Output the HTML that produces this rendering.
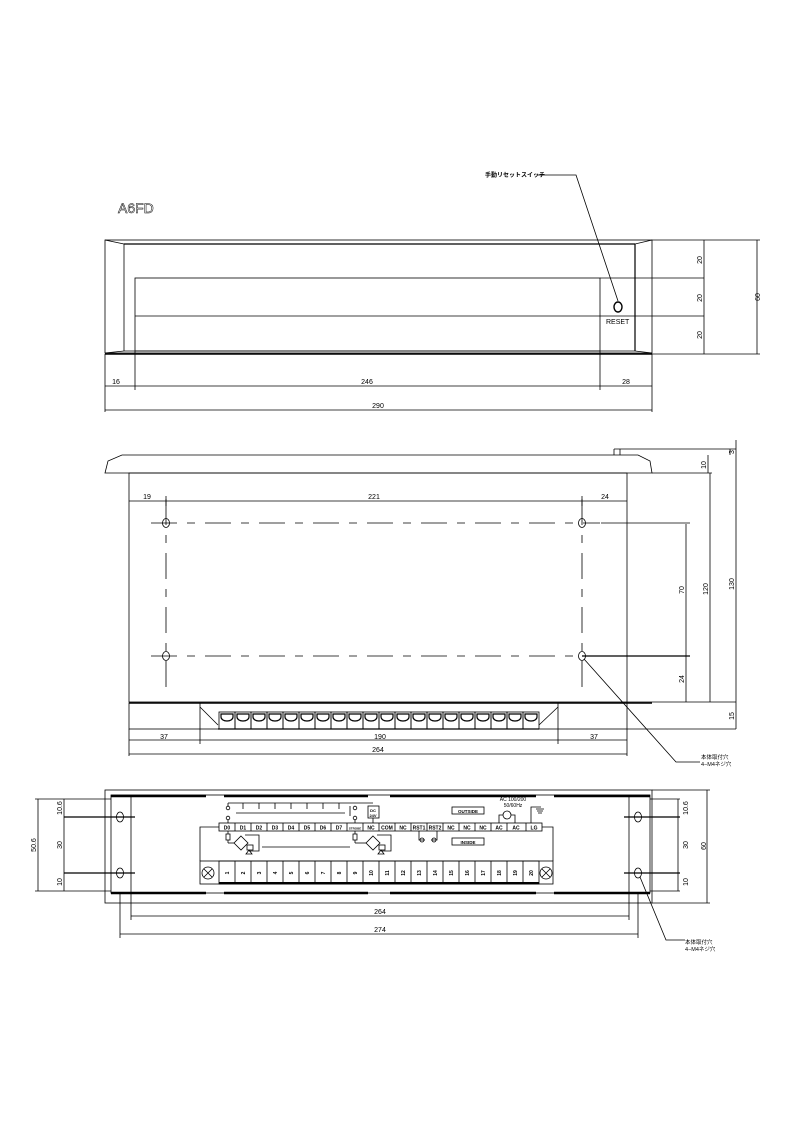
<!DOCTYPE html>
<html><head><meta charset="utf-8"><style>
html,body{margin:0;padding:0;background:#fff}
svg{display:block}
text{font-family:"Liberation Sans","Noto Sans CJK JP",sans-serif;fill:#000}
</style></head><body>
<svg width="794" height="1123" viewBox="0 0 794 1123" xmlns="http://www.w3.org/2000/svg">
<g fill="none" stroke="#000" stroke-width="0.8">
<!-- ===== TOP VIEW ===== -->
<rect x="105" y="240" width="547" height="113"/>
<line x1="105" y1="354" x2="652" y2="354" stroke-width="1.4"/>
<line x1="124" y1="244" x2="635" y2="244" stroke-width="1.2"/>
<line x1="124" y1="351" x2="635" y2="351"/>
<line x1="124" y1="244" x2="124" y2="351"/>
<line x1="635" y1="244" x2="635" y2="351" stroke-width="1.2"/>
<line x1="105" y1="240" x2="124" y2="244"/><line x1="652" y1="240" x2="635" y2="244"/>
<line x1="105" y1="353" x2="124" y2="351"/><line x1="652" y1="353" x2="635" y2="351"/>
<rect x="135" y="278" width="465" height="73"/>
<line x1="135" y1="316" x2="704" y2="316"/>
<line x1="600" y1="278" x2="704" y2="278"/>
<line x1="652" y1="240" x2="760" y2="240"/>
<line x1="652" y1="354" x2="760" y2="354"/>
<line x1="704" y1="240" x2="704" y2="354"/>
<line x1="757" y1="240" x2="757" y2="354"/>
<ellipse cx="618" cy="307" rx="4" ry="5" stroke-width="1.4"/>
<polyline points="618,301 576,175 537,175"/>
<line x1="105" y1="354" x2="105" y2="412"/>
<line x1="135" y1="351" x2="135" y2="390"/>
<line x1="600" y1="351" x2="600" y2="390"/>
<line x1="652" y1="354" x2="652" y2="412"/>
<line x1="105" y1="386" x2="652" y2="386"/>
<line x1="105" y1="410" x2="652" y2="410"/>
<!-- ===== MIDDLE VIEW ===== -->
<polygon points="105,473 108,461 122,455 638,455 650,461 652,473"/>
<rect x="129" y="473" width="498" height="229"/>
<line x1="129" y1="703" x2="652" y2="703" stroke-width="1.4"/>
<rect x="129" y="703" width="498" height="26"/>
<line x1="614" y1="449" x2="736" y2="449"/><line x1="614" y1="449" x2="614" y2="455"/>
<line x1="620" y1="449" x2="620" y2="455"/>
<line x1="652" y1="473" x2="712" y2="473"/>
<line x1="627" y1="729" x2="736" y2="729"/>
<line x1="627" y1="702" x2="736" y2="702"/>
<line x1="710" y1="473" x2="710" y2="702"/>
<line x1="708" y1="455" x2="708" y2="473"/>
<line x1="736" y1="440" x2="736" y2="729"/>
<line x1="730" y1="449" x2="730" y2="455"/>
<line x1="686" y1="524" x2="686" y2="702"/>
<line x1="582" y1="656" x2="690" y2="656" stroke-width="1.3"/>
<line x1="601" y1="523" x2="690" y2="523"/>
<g stroke-dasharray="26,10,8,10">
<line x1="151" y1="523" x2="600" y2="523"/>
<line x1="151" y1="656" x2="600" y2="656"/>
<line x1="166" y1="499" x2="166" y2="690"/>
<line x1="582" y1="499" x2="582" y2="690"/>
</g>
<ellipse cx="166" cy="523" rx="3.5" ry="4.5"/><ellipse cx="582" cy="523" rx="3.5" ry="4.5"/>
<ellipse cx="166" cy="656" rx="3.5" ry="4.5"/><ellipse cx="582" cy="656" rx="3.5" ry="4.5"/>
<line x1="129" y1="501" x2="627" y2="501"/>
<line x1="166" y1="496" x2="166" y2="506"/><line x1="582" y1="496" x2="582" y2="506"/>
<!-- connector -->
<line x1="200" y1="703" x2="200" y2="744"/><line x1="558" y1="703" x2="558" y2="744"/>
<line x1="200" y1="707" x2="218" y2="725"/><line x1="558" y1="707" x2="539" y2="725"/>
<line x1="218" y1="729" x2="539" y2="729" stroke-width="1.3"/>
<line x1="129" y1="729" x2="129" y2="756"/><line x1="627" y1="729" x2="627" y2="756"/>
<line x1="129" y1="740" x2="627" y2="740"/>
<line x1="129" y1="754" x2="627" y2="754"/>
<polyline points="584,659 676,762 700,762"/>
</g>
<!-- terminals middle view -->
<g fill="none" stroke="#000" stroke-width="0.8">
<rect x="219" y="712" width="16" height="17"/><rect x="235" y="712" width="16" height="17"/><rect x="251" y="712" width="16" height="17"/><rect x="267" y="712" width="16" height="17"/><rect x="283" y="712" width="16" height="17"/><rect x="299" y="712" width="16" height="17"/><rect x="315" y="712" width="16" height="17"/><rect x="331" y="712" width="16" height="17"/><rect x="347" y="712" width="16" height="17"/><rect x="363" y="712" width="16" height="17"/><rect x="379" y="712" width="16" height="17"/><rect x="395" y="712" width="16" height="17"/><rect x="411" y="712" width="16" height="17"/><rect x="427" y="712" width="16" height="17"/><rect x="443" y="712" width="16" height="17"/><rect x="459" y="712" width="16" height="17"/><rect x="475" y="712" width="16" height="17"/><rect x="491" y="712" width="16" height="17"/><rect x="507" y="712" width="16" height="17"/><rect x="523" y="712" width="16" height="17"/>
</g>
<g fill="none" stroke="#000" stroke-width="1.2">
<path d="M221,714 h12 v3 a6,4 0 0 1 -12,0 z M237,714 h12 v3 a6,4 0 0 1 -12,0 z M253,714 h12 v3 a6,4 0 0 1 -12,0 z M269,714 h12 v3 a6,4 0 0 1 -12,0 z M285,714 h12 v3 a6,4 0 0 1 -12,0 z M301,714 h12 v3 a6,4 0 0 1 -12,0 z M317,714 h12 v3 a6,4 0 0 1 -12,0 z M333,714 h12 v3 a6,4 0 0 1 -12,0 z M349,714 h12 v3 a6,4 0 0 1 -12,0 z M365,714 h12 v3 a6,4 0 0 1 -12,0 z M381,714 h12 v3 a6,4 0 0 1 -12,0 z M397,714 h12 v3 a6,4 0 0 1 -12,0 z M413,714 h12 v3 a6,4 0 0 1 -12,0 z M429,714 h12 v3 a6,4 0 0 1 -12,0 z M445,714 h12 v3 a6,4 0 0 1 -12,0 z M461,714 h12 v3 a6,4 0 0 1 -12,0 z M477,714 h12 v3 a6,4 0 0 1 -12,0 z M493,714 h12 v3 a6,4 0 0 1 -12,0 z M509,714 h12 v3 a6,4 0 0 1 -12,0 z M525,714 h12 v3 a6,4 0 0 1 -12,0 z"/>
</g>
<!-- ===== BOTTOM VIEW ===== -->
<g fill="none" stroke="#000" stroke-width="0.8">
<rect x="105" y="790" width="547" height="113"/>
<rect x="111" y="795" width="539" height="98"/>
<g stroke-width="2.4">
<line x1="111" y1="796" x2="206" y2="796"/><line x1="224" y1="796" x2="368" y2="796"/><line x1="390" y1="796" x2="536" y2="796"/><line x1="554" y1="796" x2="650" y2="796"/>
<line x1="111" y1="893" x2="206" y2="893"/><line x1="224" y1="893" x2="368" y2="893"/><line x1="390" y1="893" x2="536" y2="893"/><line x1="554" y1="893" x2="650" y2="893"/>
</g>
<line x1="131" y1="795" x2="131" y2="893"/><line x1="629" y1="795" x2="629" y2="893"/>
<ellipse cx="120" cy="817" rx="3.5" ry="5"/><ellipse cx="120" cy="873" rx="3.5" ry="5"/>
<ellipse cx="638" cy="817" rx="3.5" ry="5"/><ellipse cx="638" cy="873" rx="3.5" ry="5"/>
<line x1="64" y1="817" x2="135" y2="817" stroke-width="1.3"/><line x1="64" y1="873" x2="135" y2="873" stroke-width="1.3"/>
<line x1="624" y1="817" x2="680" y2="817" stroke-width="1.3"/><line x1="624" y1="873" x2="680" y2="873" stroke-width="1.3"/>
<line x1="35" y1="799" x2="111" y2="799"/><line x1="35" y1="891" x2="111" y2="891"/>
<line x1="38" y1="799" x2="38" y2="891"/><line x1="64" y1="799" x2="64" y2="891"/>
<line x1="650" y1="799" x2="680" y2="799"/><line x1="650" y1="891" x2="680" y2="891"/>
<line x1="678" y1="799" x2="678" y2="891"/>
<line x1="652" y1="790" x2="710" y2="790"/><line x1="652" y1="903" x2="710" y2="903"/>
<line x1="707" y1="790" x2="707" y2="903"/>
<line x1="131" y1="893" x2="131" y2="920"/><line x1="629" y1="893" x2="629" y2="920"/>
<line x1="120" y1="893" x2="120" y2="938"/><line x1="638" y1="893" x2="638" y2="938"/>
<line x1="131" y1="916" x2="629" y2="916"/>
<line x1="120" y1="934" x2="638" y2="934"/>
<polyline points="640,877 666,940 685,940"/>
<!-- terminal block -->
<rect x="200" y="861" width="353" height="23"/>
<rect x="219" y="861" width="320" height="23"/>
<line x1="219" y1="883" x2="539" y2="883" stroke-width="2"/>
<circle cx="208" cy="873" r="6"/><circle cx="546" cy="873" r="6"/>
<path d="M204,869 l8,8 M212,869 l-8,8 M542,869 l8,8 M550,869 l-8,8"/>
<path d="M235,861v23M251,861v23M267,861v23M283,861v23M299,861v23M315,861v23M331,861v23M347,861v23M363,861v23M379,861v23M395,861v23M411,861v23M427,861v23M443,861v23M459,861v23M475,861v23M491,861v23M507,861v23M523,861v23"/>
<!-- label row -->
<rect x="219" y="823" width="323" height="8"/>
<path d="M235,823v8M251,823v8M267,823v8M283,823v8M299,823v8M315,823v8M331,823v8M347,823v8M363,823v8M379,823v8M395,823v8M411,823v8M427,823v8M443,823v8M459,823v8M475,823v8M491,823v8M507,823v8M526,823v8"/>
<polyline points="200,861 200,827 219,827"/>
<polyline points="553,861 553,827 542,827"/>
<!-- switches -->
<line x1="228" y1="803" x2="355" y2="803"/>
<circle cx="228" cy="808" r="1.8"/><circle cx="228" cy="818" r="1.8"/>
<circle cx="355" cy="808" r="1.8"/><circle cx="355" cy="818" r="1.8"/>
<line x1="228" y1="803" x2="228" y2="806"/><line x1="228" y1="820" x2="228" y2="823"/>
<line x1="355" y1="820" x2="355" y2="823"/><line x1="350" y1="806" x2="350" y2="816"/>
<path d="M243,803v6M259,803v6M275,803v6M291,803v6M307,803v6M323,803v6M339,803v6"/>
<line x1="236" y1="813" x2="345" y2="813"/>
<line x1="355" y1="803" x2="373" y2="803"/>
<rect x="368" y="806" width="11" height="12"/>
<line x1="373" y1="818" x2="373" y2="823"/>
<!-- opto circuits -->
<rect x="226" y="834" width="4" height="6"/><line x1="228" y1="831" x2="228" y2="834"/><line x1="228" y1="840" x2="228" y2="843"/><line x1="228" y1="843" x2="234" y2="843"/>
<path d="M241,836 l7,7 l-7,7 l-7,-7 z"/><path d="M245,835 h14 v16 h-10"/>
<rect x="247" y="845" width="6" height="5"/><path d="M249,850 l3,4 h-6 z"/>
<line x1="262" y1="847" x2="350" y2="847"/>
<rect x="353" y="834" width="4" height="6"/><line x1="355" y1="831" x2="355" y2="834"/><line x1="355" y1="840" x2="355" y2="843"/><line x1="355" y1="843" x2="366" y2="843"/>
<path d="M373,836 l7,7 l-7,7 l-7,-7 z"/><path d="M377,835 h14 v16 h-10"/>
<rect x="379" y="845" width="6" height="5"/><path d="M381,850 l3,4 h-6 z"/>
<path d="M419,831 v9 h6 M437,831 v9 h-6"/><circle cx="422" cy="840" r="2"/><circle cx="434" cy="840" r="2"/>
<rect x="452" y="807" width="32" height="7"/><rect x="452" y="838" width="32" height="7"/>
<circle cx="507" cy="815" r="4"/><path d="M499,823 v-8 h4 M515,823 v-8 h-4"/>
<path d="M531,823 v-16 h10 M536,809 h8 M537,811 h6 M538,813 h4"/>
</g>
<!-- ===== TEXT ===== -->
<g font-size="7">
<text x="118" y="213" font-size="14" fill="none" stroke="#000" stroke-width="0.5" style="fill:none">A6FD</text>
<text x="485" y="177" font-size="6" font-weight="bold">手動リセットスイッチ</text>
<text x="606" y="324" font-size="7">RESET</text>
<text x="116" y="384" text-anchor="middle">16</text>
<text x="367" y="384" text-anchor="middle">246</text>
<text x="626" y="384" text-anchor="middle">28</text>
<text x="378" y="408" text-anchor="middle">290</text>
<text transform="translate(702,260) rotate(-90)" text-anchor="middle">20</text>
<text transform="translate(702,298) rotate(-90)" text-anchor="middle">20</text>
<text transform="translate(702,335) rotate(-90)" text-anchor="middle">20</text>
<text transform="translate(760,297) rotate(-90)" text-anchor="middle">60</text>
<text x="147" y="499" text-anchor="middle">19</text>
<text x="374" y="499" text-anchor="middle">221</text>
<text x="605" y="499" text-anchor="middle">24</text>
<text transform="translate(734,452) rotate(-90)" text-anchor="middle">3</text>
<text transform="translate(706,465) rotate(-90)" text-anchor="middle">10</text>
<text transform="translate(684,590) rotate(-90)" text-anchor="middle">70</text>
<text transform="translate(684,679) rotate(-90)" text-anchor="middle">24</text>
<text transform="translate(708,589) rotate(-90)" text-anchor="middle">120</text>
<text transform="translate(734,584) rotate(-90)" text-anchor="middle">130</text>
<text transform="translate(734,716) rotate(-90)" text-anchor="middle">15</text>
<text x="164" y="739" text-anchor="middle">37</text>
<text x="380" y="739" text-anchor="middle">190</text>
<text x="594" y="739" text-anchor="middle">37</text>
<text x="378" y="752" text-anchor="middle">264</text>
<text x="701" y="759" font-size="5.5">本体取付穴</text>
<text x="701" y="766" font-size="5.5">4−M4ネジ穴</text>
<text transform="translate(62,808) rotate(-90)" text-anchor="middle">10.6</text>
<text transform="translate(62,845) rotate(-90)" text-anchor="middle">30</text>
<text transform="translate(62,882) rotate(-90)" text-anchor="middle">10</text>
<text transform="translate(36,845) rotate(-90)" text-anchor="middle">50.6</text>
<text transform="translate(688,808) rotate(-90)" text-anchor="middle">10.6</text>
<text transform="translate(688,845) rotate(-90)" text-anchor="middle">30</text>
<text transform="translate(688,882) rotate(-90)" text-anchor="middle">10</text>
<text transform="translate(706,846) rotate(-90)" text-anchor="middle">60</text>
<text x="380" y="914" text-anchor="middle">264</text>
<text x="380" y="932" text-anchor="middle">274</text>
<text x="685" y="944" font-size="5.5">本体取付穴</text>
<text x="685" y="951" font-size="5.5">4−M4ネジ穴</text>
</g>
<g font-size="5" text-anchor="middle" font-weight="bold">
<text x="227" y="829.5">D0</text><text x="243" y="829.5">D1</text><text x="259" y="829.5">D2</text><text x="275" y="829.5">D3</text><text x="291" y="829.5">D4</text><text x="307" y="829.5">D5</text><text x="323" y="829.5">D6</text><text x="339" y="829.5">D7</text><text x="355" y="829.5" font-size="3">STROBE</text><text x="371" y="829.5">NC</text><text x="387" y="829.5">COM</text><text x="403" y="829.5">NC</text><text x="419" y="829.5">RST1</text><text x="435" y="829.5">RST2</text><text x="451" y="829.5">NC</text><text x="467" y="829.5">NC</text><text x="483" y="829.5">NC</text><text x="499" y="829.5">AC</text><text x="516" y="829.5">AC</text><text x="534" y="829.5">LG</text>
<text x="373" y="812" font-size="4">DC</text><text x="373" y="817" font-size="4">24V</text>
<text x="468" y="813" font-size="4.5">OUTSIDE</text><text x="468" y="844" font-size="4.5">INSIDE</text>
<text x="513" y="801" font-size="5" font-weight="normal">AC 100/200</text><text x="513" y="807" font-size="5" font-weight="normal">50/60Hz</text>
</g>
<g font-size="5" font-weight="bold">
<text transform="translate(229,873) rotate(-90)" text-anchor="middle">1</text><text transform="translate(245,873) rotate(-90)" text-anchor="middle">2</text><text transform="translate(261,873) rotate(-90)" text-anchor="middle">3</text><text transform="translate(277,873) rotate(-90)" text-anchor="middle">4</text><text transform="translate(293,873) rotate(-90)" text-anchor="middle">5</text><text transform="translate(309,873) rotate(-90)" text-anchor="middle">6</text><text transform="translate(325,873) rotate(-90)" text-anchor="middle">7</text><text transform="translate(341,873) rotate(-90)" text-anchor="middle">8</text><text transform="translate(357,873) rotate(-90)" text-anchor="middle">9</text><text transform="translate(373,873) rotate(-90)" text-anchor="middle">10</text><text transform="translate(389,873) rotate(-90)" text-anchor="middle">11</text><text transform="translate(405,873) rotate(-90)" text-anchor="middle">12</text><text transform="translate(421,873) rotate(-90)" text-anchor="middle">13</text><text transform="translate(437,873) rotate(-90)" text-anchor="middle">14</text><text transform="translate(453,873) rotate(-90)" text-anchor="middle">15</text><text transform="translate(469,873) rotate(-90)" text-anchor="middle">16</text><text transform="translate(485,873) rotate(-90)" text-anchor="middle">17</text><text transform="translate(501,873) rotate(-90)" text-anchor="middle">18</text><text transform="translate(517,873) rotate(-90)" text-anchor="middle">19</text><text transform="translate(533,873) rotate(-90)" text-anchor="middle">20</text>
</g>
</svg>
</body></html>
